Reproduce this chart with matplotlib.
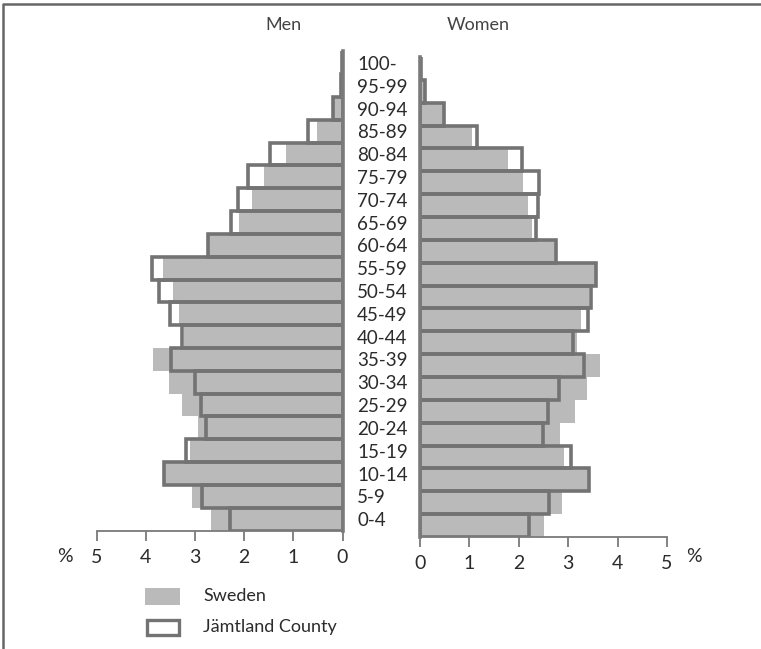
import matplotlib
matplotlib.use("Agg")
import matplotlib.pyplot as plt
from matplotlib.transforms import blended_transform_factory
from matplotlib.patches import Rectangle
from matplotlib.lines import Line2D

plt.rcParams['font.family'] = ['Lato', 'DejaVu Sans']

age_groups = ["0-4", "5-9", "10-14", "15-19", "20-24", "25-29", "30-34", "35-39",
              "40-44", "45-49", "50-54", "55-59", "60-64", "65-69", "70-74", "75-79",
              "80-84", "85-89", "90-94", "95-99", "100-"]

men_sweden = [2.68, 3.05, 3.62, 3.10, 2.93, 3.27, 3.52, 3.85, 3.22, 3.32, 3.45, 3.64,
              2.72, 2.10, 1.83, 1.60, 1.15, 0.52, 0.18, 0.04, 0.01]
men_jamtland = [2.28, 2.86, 3.63, 3.19, 2.78, 2.87, 3.00, 3.48, 3.26, 3.51, 3.73, 3.88,
                2.74, 2.27, 2.12, 1.92, 1.48, 0.71, 0.19, 0.03, 0.01]
women_sweden = [2.52, 2.87, 3.42, 2.92, 2.84, 3.13, 3.38, 3.64, 3.18, 3.25, 3.42, 3.55,
                2.74, 2.26, 2.18, 2.08, 1.79, 1.06, 0.48, 0.12, 0.02]
women_jamtland = [2.20, 2.61, 3.43, 3.05, 2.49, 2.59, 2.81, 3.32, 3.10, 3.40, 3.47, 3.57,
                  2.75, 2.34, 2.38, 2.40, 2.07, 1.16, 0.48, 0.10, 0.02]

x_ticks = [0, 1, 2, 3, 4, 5]

FILL = "#bababa"
EDGE = "#737373"
AXC = "#7a7a7a"
TXT = "#2b2b2b"

W, H = 761, 649
fig = plt.figure(figsize=(W / 100, H / 100), dpi=100)

def px_axes(x0, x1, ytop, ybot):
    return fig.add_axes([x0 / W, (H - ybot) / H, (x1 - x0) / W, (ybot - ytop) / H])

ax_m = px_axes(96.5, 342.5, 51.4, 530.5)
ax_w = px_axes(420, 667, 57, 537)

y = list(range(len(age_groups)))

for ax, sw, jm in ((ax_m, men_sweden, men_jamtland), (ax_w, women_sweden, women_jamtland)):
    ax.barh(y, sw, height=1.0, color=FILL, edgecolor="none", zorder=1)
    ax.barh(y, jm, height=1.0, facecolor="none", edgecolor=EDGE, linewidth=2.6, zorder=2)
    ax.set_ylim(-0.5, len(age_groups) - 0.5)
    ax.set_yticks([])
    ax.set_xticks(x_ticks)
    ax.set_xticklabels([str(t) for t in x_ticks], fontsize=14, color=TXT)
    ax.tick_params(axis='x', direction='out', length=7, width=1.3, color=AXC, pad=6)
    ax.spines['top'].set_visible(False)
    ax.spines['bottom'].set_color(AXC)
    ax.spines['bottom'].set_linewidth(1.3)
    ax.set_facecolor("none")

ax_m.set_xlim(5, 0)
ax_w.set_xlim(0, 5)
ax_m.spines['left'].set_visible(False)
ax_m.spines['right'].set_color(AXC)
ax_m.spines['right'].set_linewidth(2.6)
ax_m.spines['right'].set_zorder(3)
ax_w.spines['right'].set_visible(False)
ax_w.spines['left'].set_color(AXC)
ax_w.spines['left'].set_linewidth(2.6)
ax_w.spines['left'].set_zorder(3)

# Age labels
tr = blended_transform_factory(fig.transFigure, ax_m.transData)
for i, lab in enumerate(age_groups):
    ax_m.text(357 / W, i - 0.07, lab, transform=tr, ha='left', va='center',
              fontsize=13.5, color=TXT, clip_on=False)

# Titles
fig.text(283 / W, 1 - 25 / H, "Men", ha='center', va='center', fontsize=13, color="#444444")
fig.text(478 / W, 1 - 25 / H, "Women", ha='center', va='center', fontsize=13, color="#444444")

# Percent signs
fig.text(65 / W, 1 - 557 / H, "%", ha='center', va='center', fontsize=14, color=TXT)
fig.text(694 / W, 1 - 556 / H, "%", ha='center', va='center', fontsize=14, color=TXT)

# Legend
fig.patches.append(Rectangle((145 / W, 1 - 605 / H), 35 / W, 17 / H, transform=fig.transFigure,
                             facecolor=FILL, edgecolor="none"))
fig.patches.append(Rectangle((146.5 / W, 1 - 634.5 / H), 32 / W, 15 / H, transform=fig.transFigure,
                             facecolor="white", edgecolor=EDGE, linewidth=2.4))
fig.text(203 / W, 1 - 596 / H, "Sweden", ha='left', va='center', fontsize=13, color=TXT)
fig.text(203 / W, 1 - 627 / H, "Jämtland County", ha='left', va='center', fontsize=13, color=TXT)

# Frame (top and left)
fig.lines.append(Line2D([3 / W, 3 / W, 1], [0, 1 - 4 / H, 1 - 4 / H], transform=fig.transFigure,
                        color="#666666", linewidth=1.8))

fig.savefig("out.png", dpi=100)
